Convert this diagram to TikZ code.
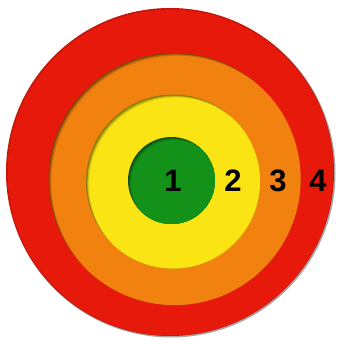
\documentclass[tikz,border=0pt]{standalone}
\usepackage{fontspec}
\setmainfont{Liberation Sans}
\definecolor{cred}{RGB}{230,25,10}
\definecolor{corange}{RGB}{242,130,15}
\definecolor{cyellow}{RGB}{250,228,20}
\definecolor{cgreen}{RGB}{20,145,25}
\tikzset{
  lbl/.style={font=\bfseries\fontsize{31}{32}\selectfont, text=black, inner sep=0pt},
}
\newcommand{\insetdisc}[4]{% x,y,r,color
  \begin{scope}
    \clip (#1,#2) circle (#3);
    \fill[#4!55!black] (#1,#2) circle (#3);
    \fill[#4!75!black] (#1+1.2,#2-1.2) circle (#3);
    \fill[#4!90!black] (#1+2.2,#2-2.2) circle (#3);
    \fill[#4] (#1+3,#2-3) circle (#3);
  \end{scope}}
\begin{document}
\begin{tikzpicture}[x=1pt,y=1pt]
\useasboundingbox[fill=white] (0,0) rectangle (344,345);
\fill[black!35] (171,172) circle (164.5);
\fill[cred!85!black] (170,173) circle (164);
\fill[cred] (170.5,172.5) circle (163);
\insetdisc{174.5}{166}{126}{corange}
\insetdisc{173}{163.5}{87}{cyellow}
\insetdisc{171.5}{164.5}{43.5}{cgreen}
\node[lbl] (n1) at (173,164) {1};
\node[lbl] (n2) at (233,164) {2};
\node[lbl] (n3) at (278,164) {3};
\node[lbl] (n4) at (318,164) {4};
\end{tikzpicture}
\end{document}
